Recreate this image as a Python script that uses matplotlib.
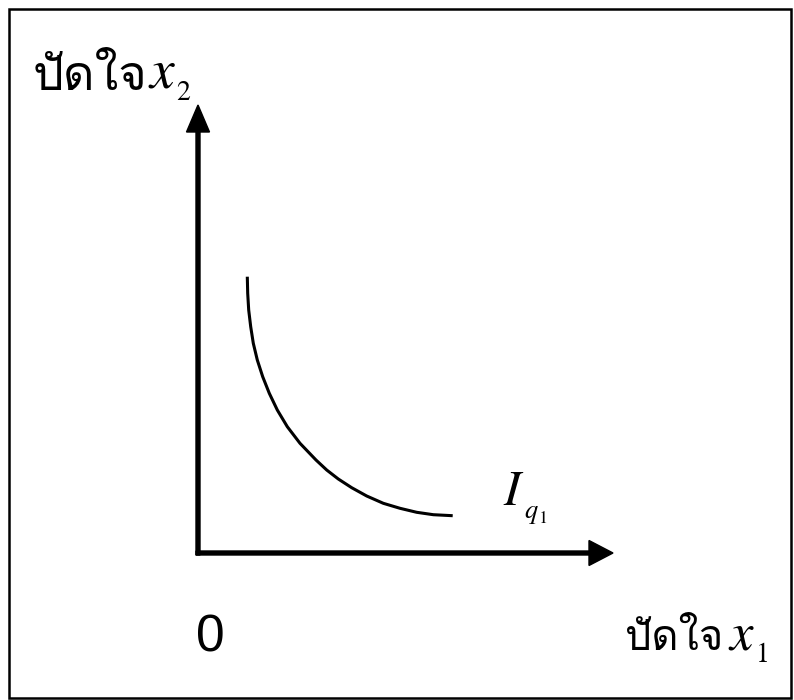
import matplotlib
matplotlib.use("Agg")
import matplotlib.pyplot as plt
from matplotlib import font_manager
from matplotlib.ft2font import FT2Font
from matplotlib.patches import Rectangle

# isoquant I_q1: input x1 against input x2 (distances from the origin, px units)
curve_x1 = [49.3, 49.7, 50.7, 52.7, 55.3, 59.3, 64.7, 71.3, 79.3, 89.3, 102,
            118, 128.7, 140.3, 153.7, 168.7, 185.3, 202, 218.7, 235.3, 254.7]
curve_x2 = [276.3, 259.7, 243, 226.3, 209.7, 193, 176.3, 159.7, 143, 126.3, 109.7,
            93, 83, 74, 65.3, 57, 49.7, 44.7, 40.7, 38.3, 37.3]

thai_word = "ปัดใจ"
origin_label = "0"

x_axis_end = 415
y_axis_end = 448


def thai_family():
    # first installed font that actually has Thai glyphs
    for f in font_manager.fontManager.ttflist:
        try:
            ft = FT2Font(f.fname)
            if all(ft.get_char_index(ord(c)) for c in thai_word):
                return f.name
        except Exception:
            continue
    return "DejaVu Sans"


def math(x, y, s, size):
    ax.text(x, y, "$" + s + "$", fontsize=size, ha="left", va="baseline")


plt.rcParams["mathtext.fontset"] = "stix"
thai = thai_family()

fig = plt.figure(figsize=(7.94, 7.0), dpi=100)
ax = fig.add_axes([0, 0, 1, 1])
ax.set_xlim(-198, 596)
ax.set_ylim(-147, 553)
ax.axis("off")

# frame around the whole diagram
fig.patches.append(Rectangle((8.5 / 794, 2.5 / 700), 782 / 794, 688.5 / 700,
                             transform=fig.transFigure, fill=False,
                             edgecolor="black", linewidth=1.8))

# axes with arrow heads
ax.arrow(-2, 0, x_axis_end + 2, 0, width=4, head_width=25, head_length=24,
         length_includes_head=True, color="black")
ax.arrow(0, -2, 0, y_axis_end + 2, width=4, head_width=23, head_length=27,
         length_includes_head=True, color="black")

ax.plot(curve_x1, curve_x2, color="black", lw=2.2,
        solid_capstyle="butt", solid_joinstyle="round")

# curve name I with nested subscript q1
math(305, 48, "I", 36)
math(326, 35, "q", 19)
math(340, 30, r"\mathrm{1}", 13)

ax.text(12, -99, origin_label, fontsize=37, family="Liberation Sans",
        ha="center", va="baseline")

# axis names
ax.text(-165, 463, thai_word, fontsize=35, family=[thai, "DejaVu Sans"],
        ha="left", va="baseline")
math(-50, 466, "x", 40)
math(-22, 453, r"\mathrm{2}", 20)

ax.text(427, -97, thai_word, fontsize=30, family=[thai, "DejaVu Sans"],
        ha="left", va="baseline")
math(530, -97, "x", 38)
math(557, -109, r"\mathrm{1}", 20)

fig.savefig("out.png", dpi=100)
